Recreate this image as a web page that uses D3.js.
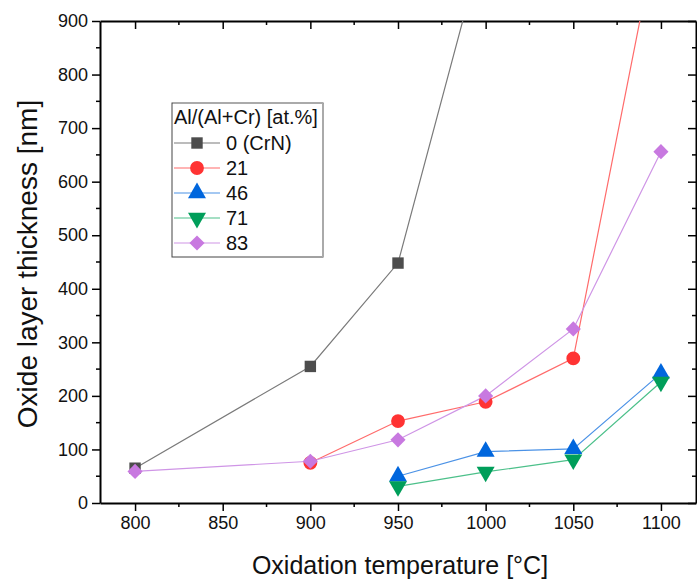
<!DOCTYPE html>
<head>
    <meta charset="utf-8">
    <script src="https://d3js.org/d3.v7.min.js"></script>
    <style>
        body { margin: 0; background: #fff; }
        svg { font-family: Arial, "Liberation Sans", sans-serif; }
    </style>
</head>
<body>
    <svg id="chart" width="697" height="579"></svg>
    <script>
        // data
        var crn = [[800, 65], [900, 255], [950, 448], [1000, 1060]];
        var al21 = [[900, 75], [950, 153], [1000, 189], [1050, 270], [1100, 1100]];
        var al46 = [[950, 50], [1000, 96], [1050, 101], [1100, 242]];
        var al71 = [[950, 31], [1000, 58], [1050, 81], [1100, 226]];
        var al83 = [[800, 59], [900, 78], [950, 118], [1000, 200], [1050, 325], [1100, 656]];
        var yTicks = [0, 100, 200, 300, 400, 500, 600, 700, 800, 900];
        var xTicks = [800, 850, 900, 950, 1000, 1050, 1100];

        var series = [
            { name: "0 (CrN)", data: crn, symbol: d3.symbolSquare, size: 130, fill: "#4d4d4d", line: "#7a7a7a", rot: 0 },
            { name: "21", data: al21, symbol: d3.symbolCircle, size: 150, fill: "#ff3333", line: "#ff6b6b", rot: 0 },
            { name: "46", data: al46, symbol: d3.symbolTriangle, size: 140, fill: "#0066dd", line: "#4b92e6", rot: 0 },
            { name: "71", data: al71, symbol: d3.symbolTriangle, size: 140, fill: "#009e5a", line: "#4cc08a", rot: 180 },
            { name: "83", data: al83, symbol: d3.symbolSquare, size: 115, fill: "#c879e0", line: "#cf95e6", rot: 45 }
        ];

        var svg = d3.select("#chart");
        var L = 100, R = 696, T = 21, B = 503;

        var x = d3.scaleLinear().domain([780, 1120]).range([L, R]);
        var y = d3.scaleLinear().domain([0, 900]).range([B, T]);

        var minorX = [825, 875, 925, 975, 1025, 1075];
        var minorY = d3.range(50, 900, 100);

        svg.append("clipPath").attr("id", "clip").append("rect")
            .attr("x", L).attr("y", T).attr("width", R - L).attr("height", B - T);

        // axes: bottom/left with labels, top/right mirrored inward
        var gx = svg.append("g").attr("transform", "translate(0," + B + ")")
            .call(d3.axisBottom(x).tickValues(xTicks).tickFormat(d3.format("d")).tickSize(8).tickPadding(5).tickSizeOuter(0));
        gx.append("g").selectAll("line").data(minorX).join("line")
            .attr("x1", x).attr("x2", x).attr("y1", 0).attr("y2", 4).attr("stroke", "#000").attr("stroke-width", 1.5);

        var gy = svg.append("g").attr("transform", "translate(" + L + ",0)")
            .call(d3.axisLeft(y).tickValues(yTicks).tickSize(8).tickPadding(4).tickSizeOuter(0));
        gy.append("g").selectAll("line").data(minorY).join("line")
            .attr("y1", y).attr("y2", y).attr("x1", 0).attr("x2", -4).attr("stroke", "#000").attr("stroke-width", 1.5);

        var gt = svg.append("g").attr("transform", "translate(0," + T + ")")
            .call(d3.axisBottom(x).tickValues(xTicks).tickSize(8).tickFormat("").tickSizeOuter(0));
        gt.append("g").selectAll("line").data(minorX).join("line")
            .attr("x1", x).attr("x2", x).attr("y1", 0).attr("y2", 4).attr("stroke", "#000").attr("stroke-width", 1.5);

        var gr = svg.append("g").attr("transform", "translate(" + R + ",0)")
            .call(d3.axisLeft(y).tickValues(yTicks).tickSize(8).tickFormat("").tickSizeOuter(0));
        gr.append("g").selectAll("line").data(minorY).join("line")
            .attr("y1", y).attr("y2", y).attr("x1", 0).attr("x2", -4).attr("stroke", "#000").attr("stroke-width", 1.5);

        svg.selectAll(".domain").attr("stroke-width", 2);
        svg.selectAll(".tick line").attr("stroke-width", 1.5);
        svg.selectAll(".tick text").attr("font-size", 18).attr("fill", "#111")
            .attr("font-family", "Arial, 'Liberation Sans', sans-serif");

        // lines + markers
        var line = d3.line().x(function (d) { return x(d[0]); }).y(function (d) { return y(d[1]); });
        var plot = svg.append("g").attr("clip-path", "url(#clip)");

        series.forEach(function (s) {
            plot.append("path").datum(s.data).attr("d", line)
                .attr("fill", "none").attr("stroke", s.line).attr("stroke-width", 1.2);
        });
        series.forEach(function (s) {
            plot.selectAll(null).data(s.data).join("path")
                .attr("d", d3.symbol().type(s.symbol).size(s.size))
                .attr("transform", function (d) {
                    return "translate(" + x(d[0]) + "," + y(d[1]) + ") rotate(" + s.rot + ")";
                })
                .attr("fill", s.fill);
        });

        // axis titles
        svg.append("text").attr("x", 400).attr("y", 574).attr("text-anchor", "middle")
            .attr("font-size", 25).attr("fill", "#111").text("Oxidation temperature [°C]");
        svg.append("text").attr("transform", "translate(37,264) rotate(-90)")
            .attr("text-anchor", "middle").attr("font-size", 28).attr("fill", "#111")
            .text("Oxide layer thickness [nm]");

        // legend
        var lg = svg.append("g");
        lg.append("rect").attr("x", 172).attr("y", 103).attr("width", 151).attr("height", 154)
            .attr("fill", "#fff").attr("stroke", "#444").attr("stroke-width", 1);
        lg.append("line").attr("x1", 323).attr("x2", 323).attr("y1", 104).attr("y2", 257)
            .attr("stroke", "#aaa").attr("stroke-width", 2);
        lg.append("line").attr("x1", 173).attr("x2", 323).attr("y1", 103).attr("y2", 103)
            .attr("stroke", "#aaa").attr("stroke-width", 2);
        lg.append("text").attr("x", 174).attr("y", 124).attr("font-size", 20).attr("fill", "#111")
            .text("Al/(Al+Cr) [at.%]");
        series.forEach(function (s, i) {
            var yy = 143 + i * 25;
            lg.append("line").attr("x1", 174).attr("x2", 220).attr("y1", yy).attr("y2", yy)
                .attr("stroke", s.line).attr("stroke-width", 1.2);
            lg.append("path").attr("d", d3.symbol().type(s.symbol).size(s.size)())
                .attr("transform", "translate(197," + yy + ") rotate(" + s.rot + ")")
                .attr("fill", s.fill);
            lg.append("text").attr("x", 226).attr("y", yy + 7).attr("font-size", 20).attr("fill", "#111")
                .text(s.name);
        });
    </script>
</body>
